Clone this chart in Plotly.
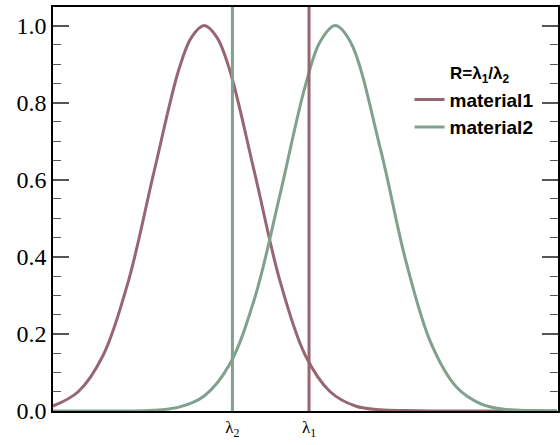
import plotly.graph_objects as go

# material1 response
x1 = [0, 5, 10, 15, 20, 25, 27.5, 30, 32.5, 35, 40, 45, 50, 55, 60, 65, 70, 75, 80, 90, 100]
y1 = [0.013, 0.050, 0.146, 0.339, 0.618, 0.887, 0.97, 1.0, 0.97, 0.887, 0.618, 0.339, 0.146, 0.050, 0.013, 0.003, 0.001, 0.0, 0.0, 0.0, 0.0]
# material2 response
x2 = [0, 10, 15, 20, 25, 30, 35, 40, 45, 50, 53, 56, 59, 65, 70, 75, 80, 85, 90, 95, 100]
y2 = [0.0, 0.0, 0.0, 0.002, 0.010, 0.039, 0.120, 0.292, 0.559, 0.841, 0.958, 1.0, 0.958, 0.678, 0.390, 0.176, 0.063, 0.018, 0.004, 0.001, 0.0]

lambda_pos = [35.6, 50.8]
lambda_text = ["λ<sub>2</sub>", "λ<sub>1</sub>"]
y_top = 1.048

c1 = "#966671"
c2 = "#80a18d"

fig = go.Figure()
fig.add_trace(go.Scatter(x=x1, y=y1, mode="lines", line=dict(color=c1, width=3, shape="spline"),
                         name="<b>material1</b>"))
fig.add_trace(go.Scatter(x=x2, y=y2, mode="lines", line=dict(color=c2, width=3, shape="spline"),
                         name="<b>material2</b>"))
fig.add_trace(go.Scatter(x=[lambda_pos[0]] * 2, y=[0, y_top], mode="lines",
                         line=dict(color=c2, width=3), showlegend=False))
fig.add_trace(go.Scatter(x=[lambda_pos[1]] * 2, y=[0, y_top], mode="lines",
                         line=dict(color=c1, width=3), showlegend=False))

fig.update_layout(
    width=560, height=445,
    margin=dict(l=53, r=0, t=7, b=34),
    plot_bgcolor="white", paper_bgcolor="white",
    xaxis=dict(range=[0, 100.2], showgrid=False, zeroline=False, showline=True,
               linecolor="black", linewidth=1.5, mirror=True,
               tickmode="array", tickvals=lambda_pos, ticktext=lambda_text,
               ticks="", tickfont=dict(family="Liberation Serif", size=17, color="black")),
    yaxis=dict(range=[0, y_top], showgrid=False, zeroline=False, showline=True,
               linecolor="black", linewidth=1.5, mirror="ticks",
               tickmode="array", tickvals=[0, 0.2, 0.4, 0.6, 0.8, 1.0],
               ticktext=["0.0", "0.2", "0.4", "0.6", "0.8", "1.0"],
               ticks="inside", ticklen=16, tickwidth=1.5, tickcolor="#555555",
               minor=dict(dtick=0.05, ticks="inside", ticklen=8, tickwidth=1, tickcolor="#555555"),
               tickfont=dict(family="Liberation Serif", size=24, color="black")),
    showlegend=True,
    legend=dict(x=0.706, y=0.818, xanchor="left", yanchor="top", bgcolor="rgba(0,0,0,0)",
                font=dict(family="Liberation Sans", size=19, color="black"),
                tracegroupgap=0, itemwidth=30),
    annotations=[dict(text="<b>R=λ<sub>1</sub>/λ<sub>2</sub></b>", x=0.844, y=0.80,
                      xref="paper", yref="paper", xanchor="center", yanchor="bottom",
                      showarrow=False, font=dict(family="Liberation Sans", size=17, color="black"))],
)

fig.write_html("out.html", config={"displayModeBar": False},
               post_script="document.body.style.margin='0';")
